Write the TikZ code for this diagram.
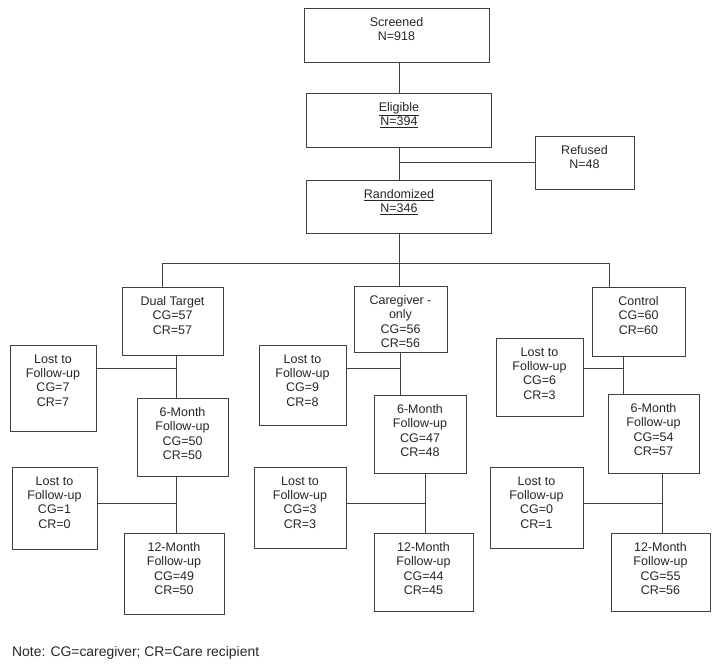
\documentclass[tikz,border=0pt]{standalone}
\usepackage{fontspec}
\setmainfont{Liberation Sans}
\begin{document}
\begin{tikzpicture}[x=1pt, y=-1pt,
    font=\fontsize{12.5}{14.3}\selectfont, text=black!85,
    box/.style={draw=black!75, line width=0.9pt, inner sep=0pt},
    txt/.style={anchor=north, align=center, inner sep=0pt, yshift=-9.8pt},
    link/.style={draw=black!75, line width=0.9pt}]
  \useasboundingbox (0,0) rectangle (719,664);
  % Enrollment
  \node[box, minimum width=185, minimum height=54, label={[txt]north:Screened\\N=918}] (scr) at (396.5,35) {};
  \node[box, minimum width=185, minimum height=54, label={[txt]north:\underline{Eligible}\\\underline{N=394}}] (elig) at (399,120) {};
  \node[box, minimum width=99, minimum height=53, label={[txt]north:Refused\\N=48}] (ref) at (584.5,162.5) {};
  \node[box, minimum width=185, minimum height=53, label={[txt]north:\underline{Randomized}\\\underline{N=346}}] (rand) at (399,206.5) {};
  % Study arms
  \node[box, minimum width=101, minimum height=68, label={[txt]north:Dual Target\\CG=57\\CR=57}] (dt) at (172.5,321) {};
  \node[box, minimum width=93, minimum height=66, label={[txt]north:Caregiver -\\only\\CG=56\\CR=56}] (cgo) at (400.5,319) {};
  \node[box, minimum width=93, minimum height=69, label={[txt]north:Control\\CG=60\\CR=60}] (ctl) at (638.5,321.5) {};
  % Dual target column
  \node[box, minimum width=86, minimum height=86, label={[txt]north:Lost to\\Follow-up\\CG=7\\CR=7}] (dtl1) at (53,388) {};
  \node[box, minimum width=91, minimum height=78, label={[txt]north:6-Month\\Follow-up\\CG=50\\CR=50}] (dt6) at (182.5,437) {};
  \node[box, minimum width=85, minimum height=82, label={[txt]north:Lost to\\Follow-up\\CG=1\\CR=0}] (dtl2) at (54.5,508) {};
  \node[box, minimum width=100, minimum height=81, label={[txt]north:12-Month\\Follow-up\\CG=49\\CR=50}] (dt12) at (174,573.5) {};
  % Caregiver-only column
  \node[box, minimum width=87, minimum height=80, label={[txt]north:Lost to\\Follow-up\\CG=9\\CR=8}] (cgl1) at (302.5,385) {};
  \node[box, minimum width=92, minimum height=78, label={[txt]north:6-Month\\Follow-up\\CG=47\\CR=48}] (cg6) at (420,434) {};
  \node[box, minimum width=92, minimum height=81, label={[txt]north:Lost to\\Follow-up\\CG=3\\CR=3}] (cgl2) at (300,507.5) {};
  \node[box, minimum width=99, minimum height=78, label={[txt]north:12-Month\\Follow-up\\CG=44\\CR=45}] (cg12) at (423.5,572) {};
  % Control column
  \node[box, minimum width=87, minimum height=78, label={[txt]north:Lost to\\Follow-up\\CG=6\\CR=3}] (ctl1) at (539.5,377) {};
  \node[box, minimum width=91, minimum height=79, label={[txt]north:6-Month\\Follow-up\\CG=54\\CR=57}] (ct6) at (653.5,433.5) {};
  \node[box, minimum width=93, minimum height=81, label={[txt]north:Lost to\\Follow-up\\CG=0\\CR=1}] (ctl2) at (536.5,507.5) {};
  \node[box, minimum width=99, minimum height=78, label={[txt]north:12-Month\\Follow-up\\CG=55\\CR=56}] (ct12) at (660.5,572) {};
  % Note
  \node[anchor=base west, inner sep=0pt, font=\fontsize{13.9}{16}\selectfont] (note) at (12,656) {Note: CG=caregiver; CR=Care recipient};
  % Junctions
  \coordinate (rj) at (399,162);
  \coordinate (br) at (399,263);
  \coordinate (dtb) at (162,263);
  \coordinate (ctb) at (609,263);
  \coordinate (dts1) at (176,368);
  \coordinate (dts2) at (176,503);
  \coordinate (cgs1) at (400,368);
  \coordinate (cgs2) at (425,503);
  \coordinate (cts1) at (623,368);
  \coordinate (cts2) at (662,503);
  % Connectors
  \draw[link] (elig.north) -- (elig.north |- scr.south);
  \draw[link] (elig.south) -- (rand.north);
  \draw[link] (rj) -- (rj -| ref.west);
  \draw[link] (rand.south) -- (br);
  \draw[link] (dt.north -| dtb) |- (ctb) -- (ctl.north -| ctb);
  \draw[link] (br) -- (cgo.north -| br);
  \draw[link] (dt.south -| dts1) -- (dt6.north -| dts1);
  \draw[link] (dtl1.east |- dts1) -- (dts1);
  \draw[link] (dt6.south -| dts2) -- (dt12.north -| dts2);
  \draw[link] (dtl2.east |- dts2) -- (dts2);
  \draw[link] (cgo.south -| cgs1) -- (cg6.north -| cgs1);
  \draw[link] (cgl1.east |- cgs1) -- (cgs1);
  \draw[link] (cg6.south -| cgs2) -- (cg12.north -| cgs2);
  \draw[link] (cgl2.east |- cgs2) -- (cgs2);
  \draw[link] (ctl.south -| cts1) -- (ct6.north -| cts1);
  \draw[link] (ctl1.east |- cts1) -- (cts1);
  \draw[link] (ct6.south -| cts2) -- (ct12.north -| cts2);
  \draw[link] (ctl2.east |- cts2) -- (cts2);
\end{tikzpicture}
\end{document}
